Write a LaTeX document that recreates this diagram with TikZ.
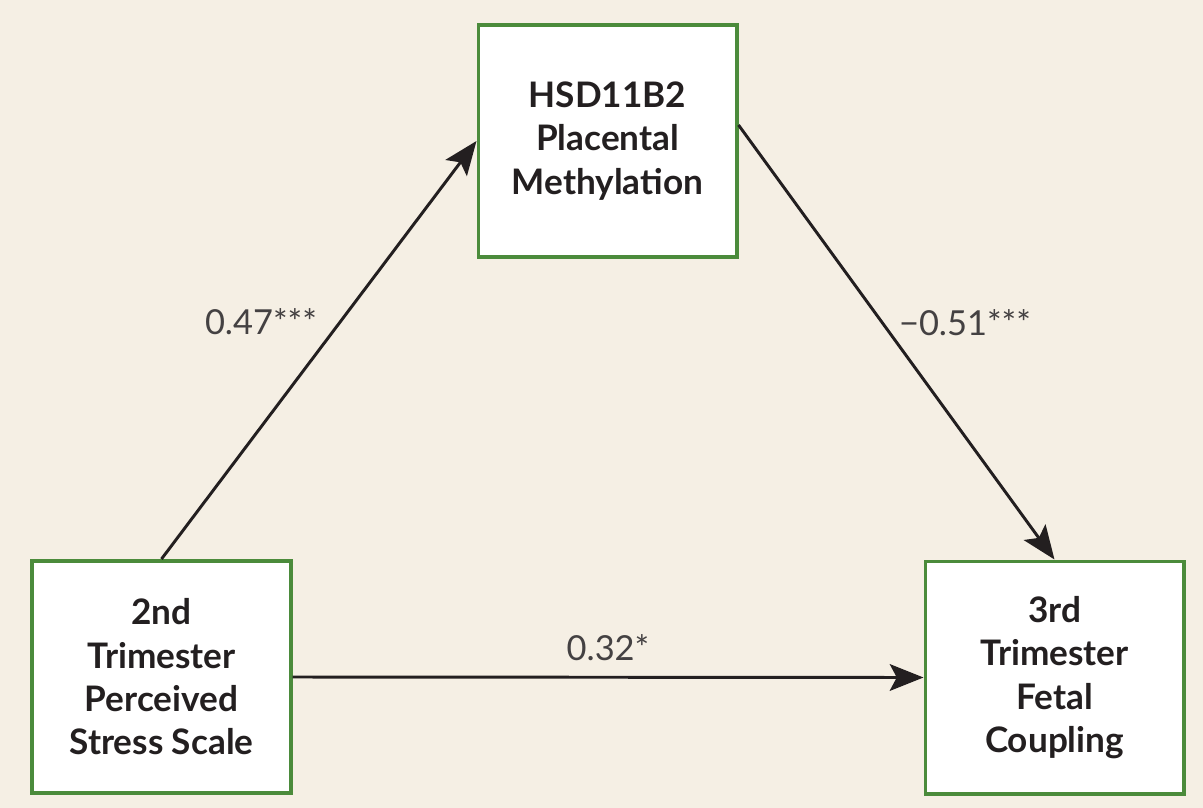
\documentclass[tikz,border=0pt]{standalone}
\usepackage{fontspec}
\setmainfont{Lato}
\usepackage{tikz}
\usetikzlibrary{arrows.meta,positioning,calc}
\definecolor{paper}{HTML}{F5EFE4}
\definecolor{boxgreen}{HTML}{4B8B3B}
\definecolor{ink}{HTML}{231F20}
\tikzset{
  varbox/.style={
    draw = boxgreen,
    fill = white,
    line width = 2.8pt,
    minimum width = 6.45cm,
    minimum height = 5.8cm,
    align = center,
    font = \fontsize{25}{30.8}\selectfont\bfseries,
    text = ink,
    inner sep = 0pt
  },
  effect/.style={
    line width = 2.1pt,
    draw = ink,
    -{Stealth[length=24pt, width=19pt, inset=5pt]}
  },
  coef/.style={
    font = \fontsize{24.5}{28}\selectfont,
    text = ink!85,
    inner sep = 2pt
  }
}
\begin{document}
\begin{tikzpicture}[x=0.025cm, y=-0.025cm]
    \fill[paper] (0,0) rectangle (1203,808);
    \useasboundingbox (0,0) rectangle (1203,808);
        \node[varbox] (methyl) at (607.5,141) {HSD11B2\\Placental\\Methylation};
        \node[varbox] (stress) at (161.5,677) {2nd\\Trimester\\Perceived\\Stress Scale};
        \node[varbox] (coupling) at (1054.5,677.5) {3rd\\Trimester\\Fetal\\Coupling};
        \draw[effect] (stress.north) -- (methyl.west);
        \draw[effect] ([yshift=0.4cm]methyl.east) -- (coupling.north);
        \draw[effect] (stress.east) -- (coupling.west);
        \node[coef] at (261,322) {0.47***};
        \node[coef] at (965,323) {\textminus0.51***};
        \node[coef] at (608,648) {0.32*};
\end{tikzpicture}
\end{document}
